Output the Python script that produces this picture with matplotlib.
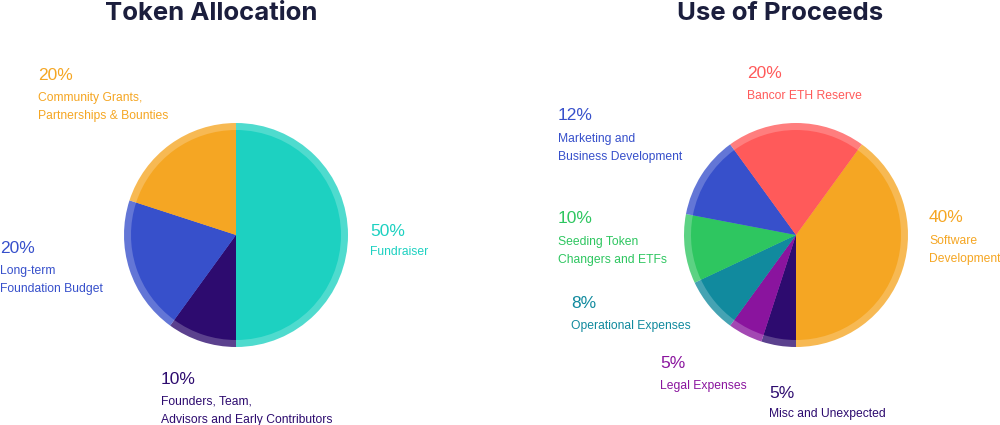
import matplotlib
matplotlib.use("Agg")
import matplotlib.pyplot as plt

# ---- data ----
alloc_labels = ["Fundraiser", "Founders, Team,\nAdvisors and Early Contributors",
                "Long-term\nFoundation Budget", "Community Grants,\nPartnerships & Bounties"]
alloc_values = [50, 10, 20, 20]
alloc_colors = ["#1DD1C1", "#2D0B6F", "#3750CB", "#F5A623"]

proc_labels = ["Software\nDevelopment", "Misc and Unexpected", "Legal Expenses",
               "Operational Expenses", "Seeding Token\nChangers and ETFs",
               "Marketing and\nBusiness Development", "Bancor ETH Reserve"]
proc_values = [40, 5, 5, 8, 10, 12, 20]
proc_colors = ["#F5A623", "#2D0B6F", "#8A149E", "#118A9E", "#2EC660", "#3750CB", "#FF5A5A"]

titles = ["Token Allocation", "Use of Proceeds"]

# ---- layout (pixel coords, y from top) ----
W, H = 1000, 425
fig = plt.figure(figsize=(W / 100, H / 100), dpi=100)
ax = fig.add_axes([0, 0, 1, 1])


def Y(y):
    return H - y


R_OUT, R_IN = 112, 105
pies = [((236, 235), alloc_values, alloc_colors, 90),
        ((796, 235), proc_values, proc_colors, 54)]

for (cx, cy), vals, cols, start in pies:
    ax.pie(vals, colors=cols, radius=R_OUT, center=(cx, Y(cy)), startangle=start,
           counterclock=False, wedgeprops=dict(alpha=0.78, linewidth=0), frame=True)
    ax.pie(vals, colors=cols, radius=R_IN, center=(cx, Y(cy)), startangle=start,
           counterclock=False, wedgeprops=dict(linewidth=0), frame=True)

ax.set_xlim(0, W)
ax.set_ylim(0, H)
ax.set_aspect("equal")
ax.axis("off")

title_font = dict(family=["Inter", "DejaVu Sans"], fontweight="bold", fontsize=18.5, color="#1B1E3D")
ax.text(211, Y(20), titles[0], ha="center", va="baseline", **title_font)
ax.text(780, Y(20), titles[1], ha="center", va="baseline", **title_font)

pct_font = dict(family=["Liberation Sans", "DejaVu Sans"], fontsize=12.5)
desc_font = dict(family=["Liberation Sans", "DejaVu Sans"], fontsize=8.7, linespacing=1.7)

# (x, y_pct, y_desc_top) for each label
alloc_pos = [(370, 231, 246), (161, 379, 396), (0, 248, 265), (38, 75, 92)]
proc_pos = [(929, 217, 235), (769, 394, 408), (660, 364, 380), (571, 303, 320),
            (558, 218, 236), (558, 115, 133), (747, 73, 90)]

for labels, vals, cols, pos in [(alloc_labels, alloc_values, alloc_colors, alloc_pos),
                                (proc_labels, proc_values, proc_colors, proc_pos)]:
    for lab, v, c, (x, yp, yd) in zip(labels, vals, cols, pos):
        ax.text(x, Y(yp), f"{v}%", ha="left", va="center", color=c, **pct_font)
        ax.text(x, Y(yd), lab, ha="left", va="top", color=c, **desc_font)

fig.savefig("out.png", dpi=100)
